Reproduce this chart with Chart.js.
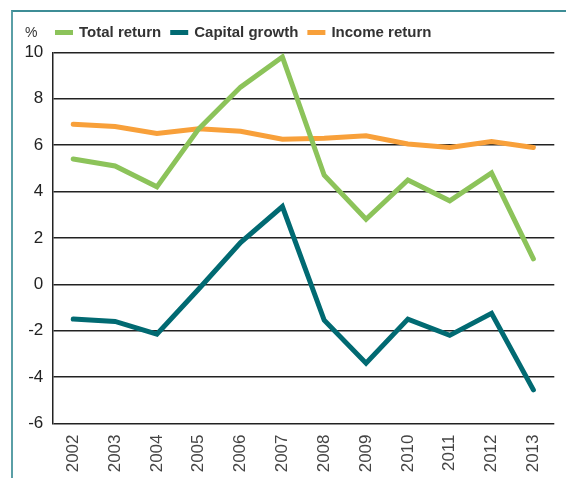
<!DOCTYPE html>
<html>
<head>
<meta charset="utf-8">
<script src="https://cdn.jsdelivr.net/npm/chart.js@4.4.1/dist/chart.umd.min.js"></script>
<style>
  html, body { margin: 0; padding: 0; background: #fff; }
  body { width: 566px; height: 478px; position: relative; overflow: hidden; }
  .frame {
    position: absolute; left: 11px; top: 10px; right: 0; bottom: 0;
    border-top: 2px solid #3d8d96; border-left: 2px solid #5a9fa6;
  }
  .frame canvas { display: block; }
</style>
</head>
<body>
<div class="frame">
  <canvas id="returnsChart" width="553" height="466"></canvas>
</div>
<script>
// annual returns, %
var years = ["2002", "2003", "2004", "2005", "2006", "2007", "2008", "2009", "2010", "2011", "2012", "2013"];
var totalReturn   = [5.4, 5.1, 4.2, 6.7, 8.5, 9.8, 4.7, 2.8, 4.5, 3.6, 4.8, 1.1];
var capitalGrowth = [-1.5, -1.6, -2.15, -0.2, 1.8, 3.35, -1.55, -3.4, -1.5, -2.2, -1.25, -4.55];
var incomeReturn  = [6.9, 6.8, 6.5, 6.7, 6.6, 6.25, 6.3, 6.4, 6.05, 5.9, 6.15, 5.9];
var seriesNames   = ["Total return", "Capital growth", "Income return"];
var seriesColours = ["#8cc35a", "#016a72", "#f8a03a"];

// "%" unit plus a one-row legend above the plot
var topLegend = {
  id: "topLegend",
  afterDraw: function(chart) {
    var ctx = chart.ctx;
    ctx.save();
    ctx.textBaseline = "middle";
    ctx.textAlign = "left";
    ctx.fillStyle = "#333";
    ctx.font = "14px 'Liberation Sans', Arial, sans-serif";
    ctx.fillText("%", 12, 21);

    ctx.font = "bold 15px 'Liberation Sans', Arial, sans-serif";
    var x = 42;
    chart.data.datasets.forEach(function(ds) {
      ctx.fillStyle = ds.borderColor;
      ctx.fillRect(x, 18, 18, 5);
      ctx.fillStyle = "#333";
      ctx.fillText(ds.label, x + 24, 21);
      x += 24 + ctx.measureText(ds.label).width + 9;
    });
    ctx.restore();
  }
};

function lineSet(i, values) {
  return {
    label: seriesNames[i],
    data: values,
    borderColor: seriesColours[i],
    backgroundColor: seriesColours[i],
    borderWidth: 5,
    pointRadius: 0,
    pointHoverRadius: 0,
    tension: 0,
    borderCapStyle: "round",
    fill: false
  };
}

var ctx = document.getElementById("returnsChart");

var chart = new Chart(ctx, {
  type: "line",
  data: {
    labels: years,
    datasets: [
      lineSet(0, totalReturn),
      lineSet(1, capitalGrowth),
      lineSet(2, incomeReturn)
    ]
  },
  options: {
    responsive: false,
    animation: false,
    layout: { padding: { left: 0, right: 11.7, top: 40.3, bottom: 0 } },
    plugins: {
      legend: { display: false },
      tooltip: { enabled: false }
    },
    scales: {
      x: {
        offset: true,
        grid: { display: false, drawTicks: false },
        border: { display: false },
        ticks: {
          minRotation: 90,
          maxRotation: 90,
          padding: 11,
          color: "#444",
          font: { family: "'Liberation Sans', Arial, sans-serif", size: 17 }
        },
        afterFit: function(scale) { scale.height = 54.5; }
      },
      y: {
        min: -6,
        max: 10,
        grid: { color: "#222", lineWidth: 1.5, drawTicks: false },
        border: { color: "#222", width: 1.5 },
        ticks: {
          stepSize: 2,
          padding: 9,
          color: "#222",
          font: { family: "'Liberation Sans', Arial, sans-serif", size: 17 }
        },
        afterFit: function(scale) { scale.width = 39.3; }
      }
    }
  },
  plugins: [topLegend]
});
</script>
</body>
</html>
